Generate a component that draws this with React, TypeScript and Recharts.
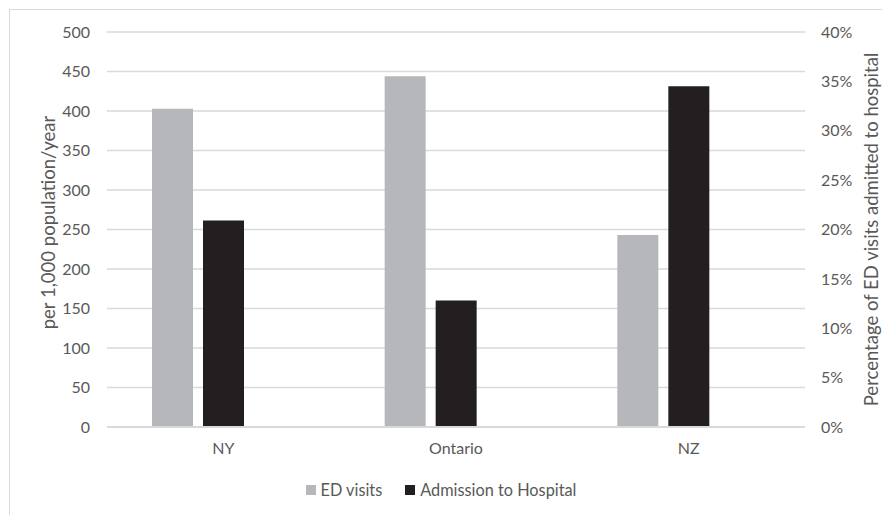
import React from 'react';
import { BarChart, Bar, XAxis, YAxis, CartesianGrid, Legend } from 'recharts';

const regions = ['NY', 'Ontario', 'NZ'];
const edVisits = [403, 444, 243];
const admissionPct = [20.9, 12.8, 34.5];
const leftTicks = [0, 50, 100, 150, 200, 250, 300, 350, 400, 450, 500];
const rightTicks = [0, 5, 10, 15, 20, 25, 30, 35, 40];

const data = regions.map((region, i) => ({
  region,
  ed: edVisits[i],
  admission: admissionPct[i],
}));

const FONT = 'Lato, "Open Sans", sans-serif';
const TEXT = '#595959';
const GRID = '#d9d9d9';
const ED_COLOR = '#b6b7ba';
const ADM_COLOR = '#231f20';

const legendItems = [
  { label: 'ED visits', color: ED_COLOR },
  { label: 'Admission to Hospital', color: ADM_COLOR },
];

function LegendContent() {
  return (
    <div style={{ display: 'flex', justifyContent: 'center', gap: 23, fontFamily: FONT, fontSize: 16.3, color: TEXT, lineHeight: '20px' }}>
      {legendItems.map((item) => (
        <div key={item.label} style={{ display: 'flex', alignItems: 'center' }}>
          <span style={{ width: 10, height: 10, background: item.color, marginRight: 5, display: 'inline-block' }} />
          <span>{item.label}</span>
        </div>
      ))}
    </div>
  );
}

// rotated axis title placed at a fixed x, centred on the plot height
function axisTitle(text: string, x: number, shiftY: number) {
  return (props: any) => {
    const vb = props.viewBox || {};
    const y = vb.y + vb.height / 2 + shiftY;
    return (
      <text
        x={x}
        y={y}
        transform={`rotate(-90, ${x}, ${y})`}
        textAnchor="middle"
        dominantBaseline="central"
        fill={TEXT}
        fontSize={18.5}
        fontFamily={FONT}
      >
        {text}
      </text>
    );
  };
}

export default function App() {
  return (
    <div style={{ position: 'fixed', left: 0, top: 0, width: 882, height: 515, overflow: 'hidden', background: '#fff' }}>
      <div style={{ position: 'absolute', left: 9, top: 9, width: 1000, height: 1000, border: `1px solid ${GRID}` }} />
      <div style={{ position: 'absolute', left: 0, top: 0 }}>
        <BarChart
          width={882}
          height={515}
          data={data}
          margin={{ top: 32, right: 17, left: 47, bottom: 58 }}
          barSize={41}
          barGap={10}
        >
          <CartesianGrid yAxisId="left" vertical={false} stroke={GRID} strokeWidth={1.3} />
          <XAxis
            dataKey="region"
            axisLine={{ stroke: GRID, strokeWidth: 2 }}
            tickLine={false}
            tickMargin={10}
            tick={{ fill: TEXT, fontSize: 16, fontFamily: FONT }}
          />
          <YAxis
            yAxisId="left"
            width={60}
            domain={[0, 500]}
            ticks={leftTicks}
            axisLine={false}
            tickLine={false}
            tickMargin={11}
            tick={{ fill: TEXT, fontSize: 16, fontFamily: FONT }}
            label={{ content: axisTitle('per 1,000 population/year', 48, -7) }}
          />
          <YAxis
            yAxisId="right"
            orientation="right"
            width={60}
            domain={[0, 40]}
            ticks={rightTicks}
            tickFormatter={(v) => `${v}%`}
            axisLine={false}
            tickLine={false}
            tickMargin={10}
            tick={{ fill: TEXT, fontSize: 16, fontFamily: FONT, textAnchor: 'start' }}
            label={{ content: axisTitle('Percentage of ED visits admitted to hospital', 871, 0) }}
          />
          <Legend
            layout="horizontal"
            verticalAlign="middle"
            align="center"
            wrapperStyle={{ top: 480, left: 0, width: 882 }}
            content={<LegendContent />}
          />
          <Bar yAxisId="left" dataKey="ed" name="ED visits" fill={ED_COLOR} isAnimationActive={false} />
          <Bar yAxisId="right" dataKey="admission" name="Admission to Hospital" fill={ADM_COLOR} isAnimationActive={false} />
          <Bar yAxisId="left" dataKey="spacer" legendType="none" fill="transparent" isAnimationActive={false} />
        </BarChart>
      </div>
    </div>
  );
}
